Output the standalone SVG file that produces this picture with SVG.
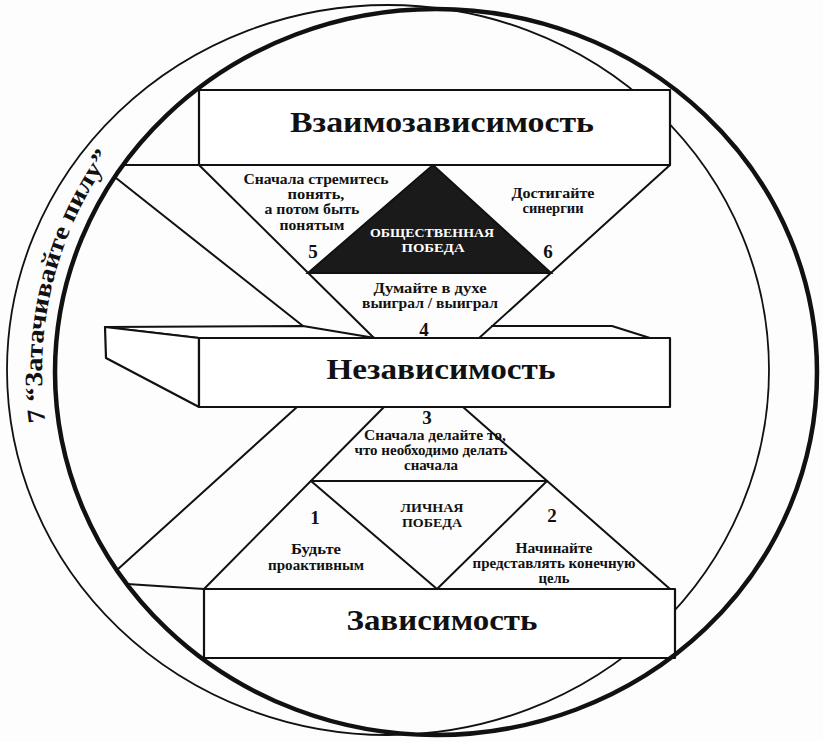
<svg xmlns="http://www.w3.org/2000/svg" width="823" height="742" viewBox="0 0 823 742">
<style>
.ln{stroke:#111;stroke-width:2;fill:none;stroke-linejoin:round;stroke-linecap:round}
.box{stroke:#111;stroke-width:2.2;fill:#fff;stroke-linejoin:round}
.t{font-family:"Liberation Serif","Times New Roman",serif;font-weight:bold;fill:#111;text-anchor:middle}
.title{font-size:30px}
.lbl{font-size:14px}
.num{font-size:19px}
.cap{font-size:12.5px}
.w{fill:#fff}
.saw{font-family:"Liberation Serif","Times New Roman",serif;font-weight:bold;font-size:25px;fill:#111}
</style>
<defs>
<path id="arc7" d="M 45.4 422 A 370 370 0 0 1 108.8 160"/>
</defs>
<rect x="0" y="0" width="823" height="742" fill="#fdfdfd"/>
<g id="rings">
<ellipse cx="388" cy="370" rx="381" ry="365" fill="none" stroke="#111" stroke-width="1.8"/>
</g>
<g id="connectors" class="ln">
<line x1="123" y1="165" x2="199" y2="165"/>
<line x1="116" y1="178" x2="303" y2="326"/>
<line x1="199" y1="165" x2="375" y2="339"/>
<line x1="670" y1="165" x2="478" y2="339"/>
<line x1="117" y1="570" x2="297" y2="407"/>
<line x1="384" y1="407" x2="204" y2="589"/>
<line x1="463" y1="407" x2="670" y2="589"/>
<line x1="311" y1="481" x2="547" y2="481"/>
<polyline points="311,481 437,589 547,481"/>
<line x1="127" y1="584" x2="204" y2="589"/>
</g>
<g id="interdependence">
<rect class="box" x="199" y="90" width="471" height="75"/>
<text class="t title" x="442" y="132" textLength="304" lengthAdjust="spacingAndGlyphs">Взаимозависимость</text>
</g>
<g id="public-victory">
<polygon points="433,165 308,273 551,273" fill="#1a1a1a" stroke="#111" stroke-width="2"/>
<text class="t cap w" x="432" y="237" textLength="124" lengthAdjust="spacingAndGlyphs">ОБЩЕСТВЕННАЯ</text>
<text class="t cap w" x="433" y="252" textLength="63" lengthAdjust="spacingAndGlyphs">ПОБЕДА</text>
</g>
<g id="habit5">
<text class="t lbl" x="316" y="184" textLength="145" lengthAdjust="spacingAndGlyphs">Сначала стремитесь</text>
<text class="t lbl" x="316" y="199" textLength="57" lengthAdjust="spacingAndGlyphs">понять,</text>
<text class="t lbl" x="312" y="214" textLength="95" lengthAdjust="spacingAndGlyphs">а потом быть</text>
<text class="t lbl" x="312" y="230" textLength="65" lengthAdjust="spacingAndGlyphs">понятым</text>
<text class="t num" x="313" y="258">5</text>
</g>
<g id="habit6">
<text class="t lbl" x="553" y="198" textLength="83" lengthAdjust="spacingAndGlyphs">Достигайте</text>
<text class="t lbl" x="553" y="213" textLength="61" lengthAdjust="spacingAndGlyphs">синергии</text>
<text class="t num" x="548" y="258">6</text>
</g>
<g id="habit4">
<text class="t lbl" x="430" y="293" textLength="113" lengthAdjust="spacingAndGlyphs">Думайте в духе</text>
<text class="t lbl" x="430" y="308" textLength="136" lengthAdjust="spacingAndGlyphs">выиграл / выиграл</text>
<text class="t num" x="424" y="336">4</text>
</g>
<g id="independence">
<polygon class="box" points="105,327 303,326 375,338 199,338"/>
<polyline class="ln" points="492,326 612,326 650,338"/>
<polygon class="box" points="105,327 199,338 199,407 106,358"/>
<rect class="box" x="199" y="338" width="471" height="69"/>
<text class="t title" x="441" y="379" textLength="229" lengthAdjust="spacingAndGlyphs">Независимость</text>
</g>
<g id="habit3">
<text class="t num" x="427" y="424">3</text>
<text class="t lbl" x="435" y="440" textLength="142" lengthAdjust="spacingAndGlyphs">Сначала делайте то,</text>
<text class="t lbl" x="431" y="455" textLength="153" lengthAdjust="spacingAndGlyphs">что необходимо делать</text>
<text class="t lbl" x="431" y="470" textLength="54" lengthAdjust="spacingAndGlyphs">сначала</text>
</g>
<g id="private-victory">
<text class="t cap" x="432" y="512" textLength="63" lengthAdjust="spacingAndGlyphs">ЛИЧНАЯ</text>
<text class="t cap" x="432" y="527" textLength="60" lengthAdjust="spacingAndGlyphs">ПОБЕДА</text>
</g>
<g id="habit1">
<text class="t num" x="315" y="524">1</text>
<text class="t lbl" x="316" y="554" textLength="50" lengthAdjust="spacingAndGlyphs">Будьте</text>
<text class="t lbl" x="316" y="570" textLength="96" lengthAdjust="spacingAndGlyphs">проактивным</text>
</g>
<g id="habit2">
<text class="t num" x="552" y="522">2</text>
<text class="t lbl" x="554" y="553" textLength="77" lengthAdjust="spacingAndGlyphs">Начинайте</text>
<text class="t lbl" x="554" y="568" textLength="163" lengthAdjust="spacingAndGlyphs">представлять конечную</text>
<text class="t lbl" x="554" y="583" textLength="31" lengthAdjust="spacingAndGlyphs">цель</text>
</g>
<g id="dependence">
<rect class="box" x="204" y="589" width="471" height="69"/>
<text class="t title" x="442" y="630" textLength="191" lengthAdjust="spacingAndGlyphs">Зависимость</text>
</g>
<g id="outer-ring">
<ellipse cx="436" cy="372" rx="381" ry="363" fill="none" stroke="#111" stroke-width="4.5"/>
</g>
<g id="habit7">
<text class="saw"><textPath href="#arc7" textLength="280" lengthAdjust="spacingAndGlyphs">7 “Затачивайте пилу”</textPath></text>
</g>
</svg>
